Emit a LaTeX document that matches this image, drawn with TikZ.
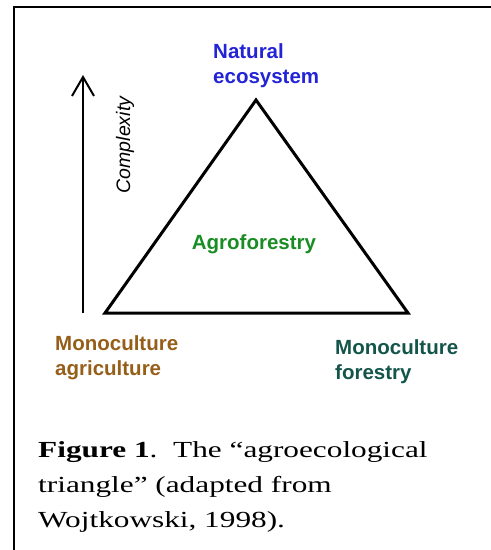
\documentclass[tikz,border=0pt]{standalone}
\usepackage{fontspec}
\setsansfont{Liberation Sans}
\newfontfamily\capfont{Liberation Serif}[FakeStretch=1.36]
\usepackage{tikz}
\usetikzlibrary{arrows.meta,positioning}
\definecolor{natblue}{RGB}{35,35,215}
\definecolor{agrogreen}{RGB}{25,140,35}
\definecolor{cropbrown}{RGB}{150,95,25}
\definecolor{woodteal}{RGB}{20,85,75}

\begin{document}
\begin{tikzpicture}[
  x=1bp, y=-1bp,
  corner/.style={font=\sffamily\bfseries\fontsize{20.5bp}{25bp}\selectfont, align=left, inner sep=0pt, anchor=north west},
  side/.style={line width=3bp, line join=miter},
  arrow/.style={-{Straight Barb[length=19bp,width=22bp]}, line width=2bp},
]
  \useasboundingbox (0,0) rectangle (491,550);
  % frame, only top and left edges show
  \draw[line width=2bp] (491,7) -- (14,7) -- (14,550);
  % the triangle
  \coordinate (apex) at (256,100);
  \coordinate (lcorner) at (105,313);
  \coordinate (rcorner) at (408,313);
  \draw[side] (apex) -- (lcorner) -- (rcorner) -- cycle;
  % complexity axis
  \coordinate (cbot) at (83,313);
  \coordinate (ctop) at (83,75);
  \draw[arrow] (cbot) -- (ctop);
  \node[font=\sffamily\itshape\fontsize{19.5bp}{23bp}\selectfont, rotate=90, anchor=base, inner sep=0pt] (cplx) at (130,145) {Complexity};
  % corner labels
  \node[corner, text=natblue] (nat) at (213,43) {Natural\\ecosystem};
  \node[corner, text=cropbrown] (agri) at (55,335) {Monoculture\\agriculture};
  \node[corner, text=woodteal] (forest) at (335,339) {Monoculture\\forestry};
  \node[font=\sffamily\bfseries\fontsize{20.5bp}{25bp}\selectfont, text=agrogreen, anchor=base, inner sep=0pt] (agro) at (254,249) {Agroforestry};
  % caption
  \node[align=left, anchor=north west, inner sep=0pt, font=\capfont\fontsize{23bp}{35bp}\selectfont] (cap) at (38,441) {\textbf{Figure 1}.\ \ The “agroecological\\triangle” (adapted from\\Wojtkowski, 1998).};
\end{tikzpicture}
\end{document}
